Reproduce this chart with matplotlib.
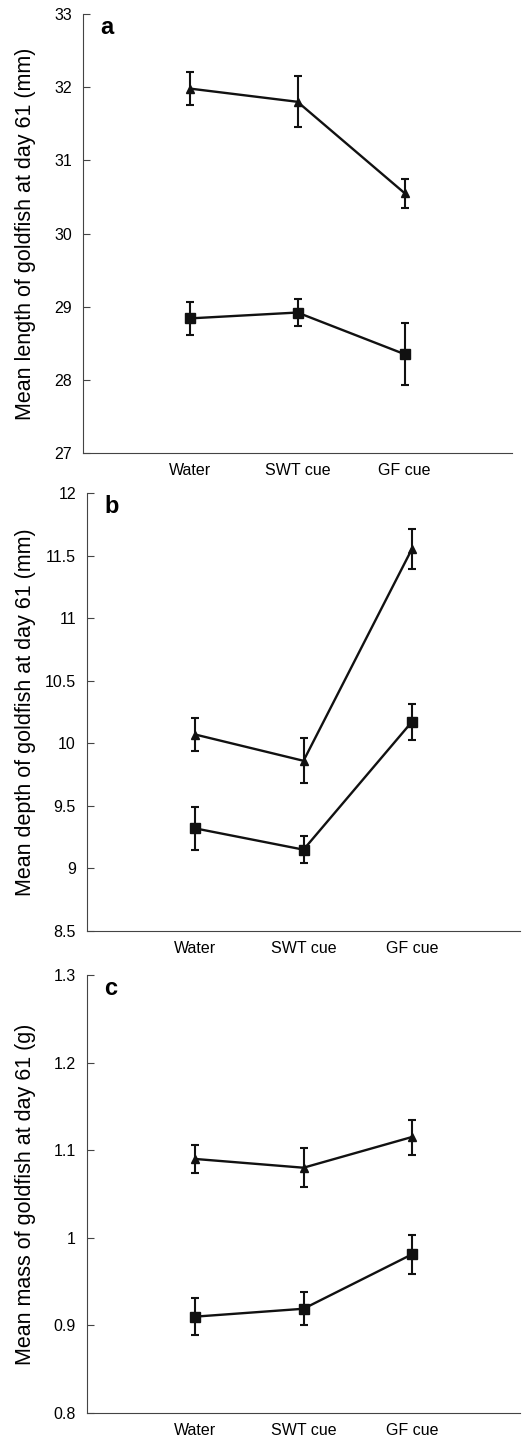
import matplotlib
matplotlib.use("Agg")
import matplotlib.pyplot as plt

plt.rcParams["font.family"] = ["Liberation Sans", "DejaVu Sans"]

categories = ["Water", "SWT cue", "GF cue"]

# panel a: length (mm)
len_tri = [31.98, 31.80, 30.55]
len_tri_err = [0.23, 0.35, 0.20]
len_sq = [28.84, 28.92, 28.35]
len_sq_err = [0.23, 0.19, 0.42]

# panel b: depth (mm)
dep_tri = [10.07, 9.86, 11.55]
dep_tri_err = [0.13, 0.18, 0.16]
dep_sq = [9.32, 9.15, 10.17]
dep_sq_err = [0.17, 0.11, 0.14]

# panel c: mass (g)
mass_tri = [1.090, 1.080, 1.115]
mass_tri_err = [0.016, 0.022, 0.020]
mass_sq = [0.910, 0.919, 0.981]
mass_sq_err = [0.021, 0.019, 0.022]

panels = [
    ("a", len_tri, len_tri_err, len_sq, len_sq_err, (27, 33), [27, 28, 29, 30, 31, 32, 33],
     ["27", "28", "29", "30", "31", "32", "33"], "Mean length of goldfish at day 61 (mm)"),
    ("b", dep_tri, dep_tri_err, dep_sq, dep_sq_err, (8.5, 12), [8.5, 9, 9.5, 10, 10.5, 11, 11.5, 12],
     ["8.5", "9", "9.5", "10", "10.5", "11", "11.5", "12"], "Mean depth of goldfish at day 61 (mm)"),
    ("c", mass_tri, mass_tri_err, mass_sq, mass_sq_err, (0.8, 1.3), [0.8, 0.9, 1.0, 1.1, 1.2, 1.3],
     ["0.8", "0.9", "1", "1.1", "1.2", "1.3"], "Mean mass of goldfish at day 61 (g)"),
]

W, H = 529, 1438
# axes boxes in pixels: left, right, top, bottom
boxes = [(83, 512, 14, 453), (87, 520, 493, 931), (87, 520, 975, 1413)]

fig = plt.figure(figsize=(W / 100, H / 100), dpi=100)
x = [1, 2, 3]
for (letter, tri, tri_e, sq, sq_e, ylim, yticks, ylabels, ylab), (l, r, t, b) in zip(panels, boxes):
    ax = fig.add_axes([l / W, 1 - b / H, (r - l) / W, (b - t) / H])
    ax.errorbar(x, tri, yerr=tri_e, color="#111111", lw=1.7, marker="^", ms=6,
                capsize=2.8, elinewidth=1.5, capthick=1.5)
    ax.errorbar(x, sq, yerr=sq_e, color="#111111", lw=1.7, marker="s", ms=7,
                capsize=2.8, elinewidth=1.5, capthick=1.5)
    ax.set_xlim(0, 4)
    ax.set_ylim(*ylim)
    ax.set_yticks(yticks)
    ax.set_yticklabels(ylabels)
    ax.set_xticks(x)
    ax.set_xticklabels(categories)
    ax.tick_params(axis="y", direction="in", length=5, width=0.8, labelsize=11.5, pad=8, color="#444444")
    ax.tick_params(axis="x", length=0, labelsize=11.5, pad=7)
    for s in ("top", "right"):
        ax.spines[s].set_visible(False)
    for s in ("left", "bottom"):
        ax.spines[s].set_linewidth(0.8)
        ax.spines[s].set_color("#444444")
    ax.set_ylabel(ylab, fontsize=15.5)
    ax.yaxis.set_label_coords((36 - l) / (r - l), 0.5)
    ax.text(0.04, 0.995, letter, transform=ax.transAxes, fontsize=17, fontweight="bold",
            va="top", ha="left")

fig.savefig("out.png", dpi=100)
